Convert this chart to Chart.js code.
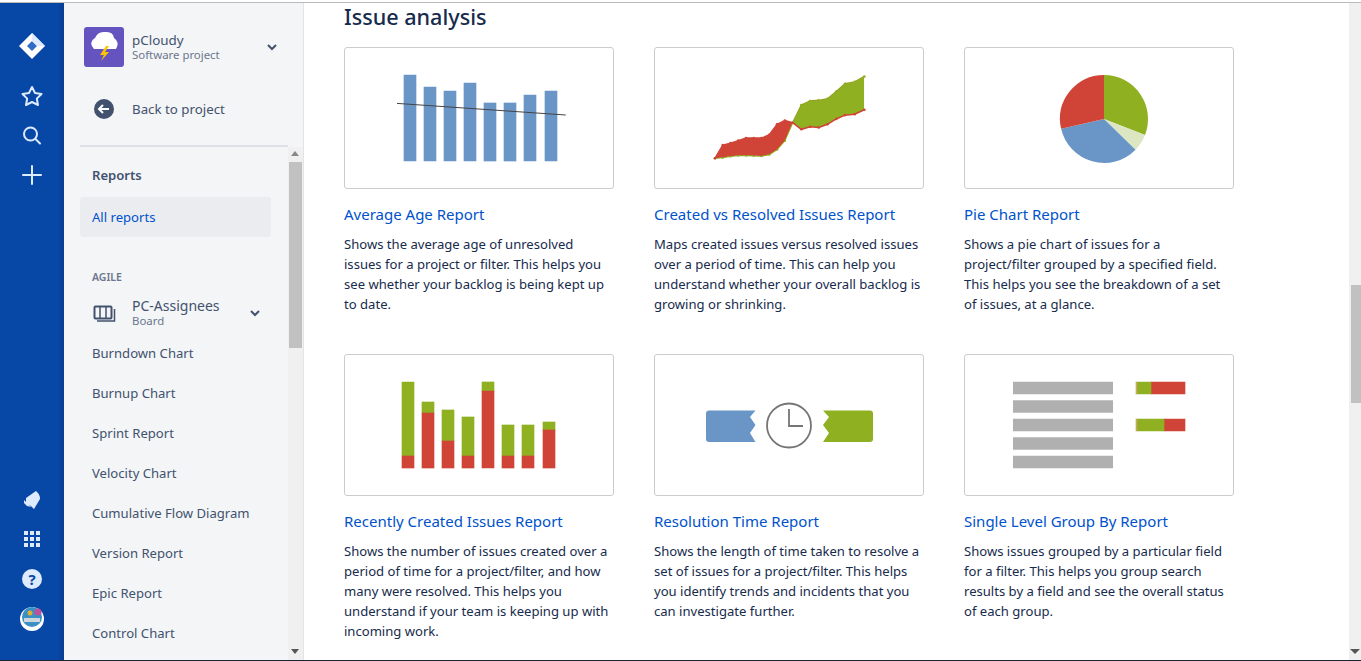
<!DOCTYPE html>
<html>
<head>
<meta charset="utf-8">
<title>Issue analysis</title>
<script src="https://cdn.jsdelivr.net/npm/chart.js@4"></script>
<style>
  html, body { margin: 0; padding: 0; width: 1361px; height: 661px; overflow: hidden; background: #fff; }
  body { position: relative; font-family: "Noto Sans", sans-serif; color: #172B4D; }
  .box { position: absolute; }
  .txt { position: absolute; white-space: nowrap; line-height: 20px; height: 20px; }
  .card { position: absolute; width: 268px; height: 140px; border: 1px solid #ccc; border-radius: 3px; background: #fff; }
  .card canvas, .card svg { position: absolute; left: 0; top: 0; display: block; }
  .heading { font-size: 21.6px; font-weight: 500; color: #172B4D; }
  .title { font-size: 15px; color: #0052CC; }
  .desc { font-size: 13.08px; color: #172B4D; }
  .side { font-size: 13.1px; color: #42526E; }
  .small { font-size: 11.4px; color: #6B778C; }
</style>
</head>
<body>

<!-- left nav -->
<div class="box" style="left:0;top:3px;width:64px;height:657px;background:linear-gradient(90deg,#0747A6 0,#0747A6 58px,#063d90 64px)"></div>
<svg class="box" style="left:0;top:0" width="64" height="661" viewBox="0 0 64 661">
  <path d="M32 33 L45 46 L32 59 L19 46 Z" fill="#fff"/>
  <path d="M32 41 L37 46 L32 51 L27 46 Z" fill="#2f6cc4"/>
  <path d="M32 33 L45 46 L37 46 L32 41 Z" fill="#DEEBFF"/>
  <path d="M32 87 L35 93 L41.5 94 L36.8 98.6 L38 105 L32 102 L26 105 L27.2 98.6 L22.500 94 L29 93 Z" fill="none" stroke="#DEEBFF" stroke-width="2" stroke-linejoin="round"/>
  <circle cx="30.500" cy="134" r="6.5" fill="none" stroke="#DEEBFF" stroke-width="2"/>
  <path d="M35.500 139 L40 143.500" stroke="#DEEBFF" stroke-width="2" stroke-linecap="round"/>
  <path d="M32 166 V184 M23 175 H41" stroke="#DEEBFF" stroke-width="2" stroke-linecap="round"/>
  <path d="M26 498 L36 491 Q40 494 40 499 L34 509 Q30 505 26 503 Z M24 500 L31 507 L27 506 L24 503 Z" fill="#DEEBFF"/>
  <g fill="#DEEBFF">
    <rect x="24" y="531" width="4" height="4"/><rect x="30" y="531" width="4" height="4"/><rect x="36" y="531" width="4" height="4"/>
    <rect x="24" y="537" width="4" height="4"/><rect x="30" y="537" width="4" height="4"/><rect x="36" y="537" width="4" height="4"/>
    <rect x="24" y="543" width="4" height="4"/><rect x="30" y="543" width="4" height="4"/><rect x="36" y="543" width="4" height="4"/>
  </g>
  <circle cx="32" cy="579" r="10" fill="#DEEBFF"/>
  <text x="32" y="585" font-family="Noto Sans" font-weight="700" font-size="15" text-anchor="middle" fill="#0747A6">?</text>
  <circle cx="32" cy="619" r="12" fill="#fff"/>
  <circle cx="32" cy="617" r="10" fill="#3a8fc4"/>
  <rect x="24" y="618" width="16" height="4" fill="#cfd6dc"/>
  <circle cx="38" cy="612" r="3.500" fill="#c0509a"/>
  <circle cx="30" cy="613" r="2.500" fill="#e0b030"/>
</svg>

<!-- sidebar -->
<div class="box" style="left:64px;top:3px;width:239px;height:657px;background:#F4F5F7"></div>
<div class="box" style="left:303px;top:3px;width:1px;height:657px;background:#e4e4e4"></div>
<div class="box" style="left:80px;top:145px;width:208px;height:2px;background:#DFE1E6"></div>
<div class="box" style="left:80px;top:197px;width:191px;height:40px;background:#EBECF0;border-radius:3px"></div>
<div class="box" style="left:288px;top:147px;width:15px;height:513px;background:#F0F0F0"></div>
<div class="box" style="left:289px;top:162px;width:13px;height:186px;background:#C1C1C1"></div>
<svg class="box" style="left:64px;top:0" width="240" height="661" viewBox="64 0 240 661">
  <rect x="84" y="27" width="40" height="40" rx="3" fill="#6554C0"/>
  <path d="M94 49 Q88 42 95 38 Q98 31 105 32 Q113 31 114 38 Q120 42 116 49 Z" fill="#fff"/>
  <path d="M106 46 L100 55 L104 55 L101 61 L109 52 L105 52 L109 46 Z" fill="#FFC400"/>
  <path d="M268 45 L272 49 L276 45" fill="none" stroke="#42526E" stroke-width="2"/>
  <circle cx="104" cy="109" r="10" fill="#42526E"/>
  <path d="M109 109 H99 M103 105 L99 109 L103 113" fill="none" stroke="#fff" stroke-width="2"/>
  <rect x="94.500" y="306.500" width="17" height="12" rx="1" fill="none" stroke="#42526E" stroke-width="2"/>
  <path d="M100 307 V318 M106 307 V318 M114.500 309 V321 H97" fill="none" stroke="#42526E" stroke-width="1.500"/>
  <path d="M251 311 L255 315 L259 311" fill="none" stroke="#42526E" stroke-width="2"/>
  <path d="M295 151 L299 156 H291 Z" fill="#888"/>
  <path d="M295 654 L291 649 H299 Z" fill="#555"/>
</svg>

<!-- page scrollbar and window edges -->
<div class="box" style="left:1349px;top:3px;width:12px;height:657px;background:#F0F0F0"></div>
<div class="box" style="left:1351px;top:285px;width:10px;height:118px;background:#C1C1C1"></div>
<svg class="box" style="left:1349px;top:640px" width="12" height="20"><path d="M6 14 L1 9 H11 Z" fill="#555"/></svg>
<div class="box" style="left:0;top:2px;width:1361px;height:1px;background:#bbb"></div>
<div class="box" style="left:0;top:660px;width:1361px;height:1px;background:#1c2333"></div>

<div class="card" style="left:344px;top:47px"><canvas id="ageChart" width="268" height="140"></canvas></div>
<div class="card" style="left:654px;top:47px"><canvas id="createdChart" width="268" height="140"></canvas></div>
<div class="card" style="left:964px;top:47px"><canvas id="pieChart" width="268" height="140"></canvas></div>
<div class="card" style="left:344px;top:354px"><canvas id="recentChart" width="268" height="140"></canvas></div>
<div class="card" style="left:654px;top:354px">
  <svg width="268" height="140" viewBox="655 355 268 140">
    <path d="M709 410.500 H755.500 L750 417 L755.500 425 L750 433 L755.500 442 H709 Q706 442 706 439 V413.500 Q706 410.500 709 410.500 Z" fill="#6A96C7"/>
    <path d="M870 410.500 H823 L829 417 L823 425 L829 433 L823 442 H870 Q873 442 873 439 V413.500 Q873 410.500 870 410.500 Z" fill="#8FB021"/>
    <circle cx="789" cy="425.500" r="22" fill="none" stroke="#757575" stroke-width="1.800"/>
    <path d="M789 409 V426 H803" fill="none" stroke="#757575" stroke-width="1.800"/>
  </svg>
</div>
<div class="card" style="left:964px;top:354px"><canvas id="groupChart" width="268" height="140"></canvas></div>

<script>
// Average Age Report
var ageDays = [0, 20, 40, 60, 80, 100, 120, 141];
var ageValues = [86, 74, 70, 78, 58, 58, 66, 70];
var ageTrendDays = [-13, 155.7];
var ageTrendValues = [57.6, 46];

// Created vs Resolved Issues Report
var createdDays = [0, 8, 16, 24, 32, 40, 48, 56, 64, 72, 80, 89, 98, 107, 116, 125, 134, 144, 154];
var createdValues = [0.3, 14.3, 16.3, 19, 21.7, 21.7, 21.7, 25.3, 36.3, 40.3, 38, 31, 33.7, 33, 36.3, 42, 46, 47, 51.7];
var resolvedValues = [0.3, 1, 2.3, 3.3, 3.3, 3, 2.7, 4.3, 9.7, 19, 38, 56.7, 61, 61.7, 63.3, 71, 79.3, 81.3, 87];

// Pie Chart Report
var pieValues = [30.9, 6.4, 34.1, 28.6];

// Recently Created Issues Report
var recentDays = [0, 20, 40, 60, 80, 100, 120, 141];
var recentResolved = [12, 55, 27, 12, 77, 12, 12, 38];
var recentCreated = [74, 11, 31, 39, 9, 31, 31, 8];

// Single Level Group By Report
var groupRows = ['a', 'b', 'c', 'd', 'e'];
var groupNameLength = [99.4, 99.4, 99.4, 99.4, 99.4];
var groupProgress = [1, null, 1, null, null];
var groupDone = [14, null, 27, null, null];
var groupOpen = [34, null, 21, null, null];

var BLUE = '#6A96C7', GREEN = '#8FB021', RED = '#D04437', PALE = '#DDE6C2', GREY = '#B0B0B0', TAN = '#C9A860';

var navItems = [
  ['Burndown Chart', 353], ['Burnup Chart', 393], ['Sprint Report', 433], ['Velocity Chart', 473],
  ['Cumulative Flow Diagram', 513], ['Version Report', 553], ['Epic Report', 593], ['Control Chart', 633]
];
var reports = [
  { x: 344, y: 214, title: 'Average Age Report', lines: ['Shows the average age of unresolved', 'issues for a project or filter. This helps you', 'see whether your backlog is being kept up', 'to date.'] },
  { x: 654, y: 214, title: 'Created vs Resolved Issues Report', lines: ['Maps created issues versus resolved issues', 'over a period of time. This can help you', 'understand whether your overall backlog is', 'growing or shrinking.'] },
  { x: 964, y: 214, title: 'Pie Chart Report', lines: ['Shows a pie chart of issues for a', 'project/filter grouped by a specified field.', 'This helps you see the breakdown of a set', 'of issues, at a glance.'] },
  { x: 344, y: 521, title: 'Recently Created Issues Report', lines: ['Shows the number of issues created over a', 'period of time for a project/filter, and how', 'many were resolved. This helps you', 'understand if your team is keeping up with', 'incoming work.'] },
  { x: 654, y: 521, title: 'Resolution Time Report', lines: ['Shows the length of time taken to resolve a', 'set of issues for a project/filter. This helps', 'you identify trends and incidents that you', 'can investigate further.'] },
  { x: 964, y: 521, title: 'Single Level Group By Report', lines: ['Shows issues grouped by a particular field', 'for a filter. This helps you group search', 'results by a field and see the overall status', 'of each group.'] }
];

function put(text, x, y, cls, extra) {
  var el = document.createElement('div');
  el.className = 'txt ' + cls;
  el.textContent = text;
  el.style.left = x + 'px';
  el.style.top = (y - 10) + 'px';
  if (extra) el.style.cssText += extra;
  document.body.appendChild(el);
}

put('Issue analysis', 344, 17, 'heading');
put('pCloudy', 132, 40, 'side', 'font-size:13.4px');
put('Software project', 132, 55, 'small');
put('Back to project', 132, 109, 'side', 'font-size:13.3px');
put('Reports', 92, 175, 'side', 'font-weight:600');
put('All reports', 92, 217, 'side', 'color:#0052CC');
put('AGILE', 92, 277, 'small', 'font-size:10.5px;font-weight:600');
put('PC-Assignees', 132, 306, 'side', 'font-size:14px');
put('Board', 132, 321, 'small');
navItems.forEach(function (item) {
  put(item[0], 92, item[1], 'side');
});
reports.forEach(function (r) {
  put(r.title, r.x, r.y, 'title');
  r.lines.forEach(function (line, i) {
    put(line, r.x, r.y + 30 + i * 20, 'desc');
  });
});

Chart.defaults.animation = false;
Chart.defaults.responsive = false;
Chart.defaults.plugins.legend.display = false;
Chart.defaults.plugins.tooltip.enabled = false;

function hidden(min, max) {
  return { type: 'linear', display: false, min: min, max: max, bounds: 'data', offset: false };
}
function pairs(xs, ys) {
  return xs.map(function (x, i) { return { x: x, y: ys[i] }; });
}

new Chart(document.getElementById('ageChart'), {
  type: 'bar',
  data: {
    datasets: [
      { type: 'line', data: pairs(ageTrendDays, ageTrendValues), borderColor: '#444', borderWidth: 1, pointRadius: 0 },
      { data: pairs(ageDays, ageValues), backgroundColor: BLUE, barThickness: 12 }
    ]
  },
  options: { scales: { x: hidden(-65, 203), y: hidden(-27, 113) } }
});

new Chart(document.getElementById('createdChart'), {
  type: 'line',
  data: {
    datasets: [
      {
        data: pairs(createdDays, createdValues),
        borderColor: RED,
        borderWidth: 1.5,
        pointRadius: 1.3,
        pointBackgroundColor: RED,
        pointBorderWidth: 0,
        fill: { target: 1, above: RED, below: GREEN }
      },
      {
        data: pairs(createdDays, resolvedValues),
        borderColor: GREEN,
        borderWidth: 1.5,
        pointRadius: 1.3,
        pointBackgroundColor: GREEN,
        pointBorderWidth: 0
      }
    ]
  },
  options: { scales: { x: hidden(-57.7, 210.3), y: hidden(-27, 113) } }
});

new Chart(document.getElementById('pieChart'), {
  type: 'pie',
  data: {
    labels: ['Green', 'Pale', 'Blue', 'Red'],
    datasets: [{ data: pieValues, backgroundColor: [GREEN, PALE, BLUE, RED], borderWidth: 0, radius: 44 }]
  },
  options: { layout: { padding: { left: 10, top: 2 } } }
});

new Chart(document.getElementById('recentChart'), {
  type: 'bar',
  data: {
    datasets: [
      { data: pairs(recentDays, recentResolved), backgroundColor: RED, barThickness: 12 },
      { data: pairs(recentDays, recentCreated), backgroundColor: GREEN, barThickness: 12 }
    ]
  },
  options: { scales: { x: Object.assign(hidden(-63, 205), { stacked: true }), y: Object.assign(hidden(-27, 113), { stacked: true }) } }
});

// status bars start 122.7 after the name bars
var statusStart = 122.7;
function statusRange(values, offsets) {
  return values.map(function (v, i) {
    if (v === null) return null;
    var from = statusStart;
    offsets.forEach(function (o) { from += o[i]; });
    return [from, from + v];
  });
}
new Chart(document.getElementById('groupChart'), {
  type: 'bar',
  data: {
    labels: groupRows,
    datasets: [
      { data: groupNameLength.map(function (v) { return [0, v]; }), backgroundColor: GREY, grouped: false, barThickness: 12 },
      { data: statusRange(groupProgress, []), backgroundColor: TAN, grouped: false, barThickness: 12 },
      { data: statusRange(groupDone, [groupProgress]), backgroundColor: GREEN, grouped: false, barThickness: 12 },
      { data: statusRange(groupOpen, [groupProgress, groupDone]), backgroundColor: RED, grouped: false, barThickness: 12 }
    ]
  },
  options: {
    indexAxis: 'y',
    layout: { padding: { top: 23.75, bottom: 23.75 } },
    scales: {
      x: hidden(-48.3, 219.7),
      y: { type: 'category', display: false, offset: true }
    }
  }
});
</script>
</body>
</html>
